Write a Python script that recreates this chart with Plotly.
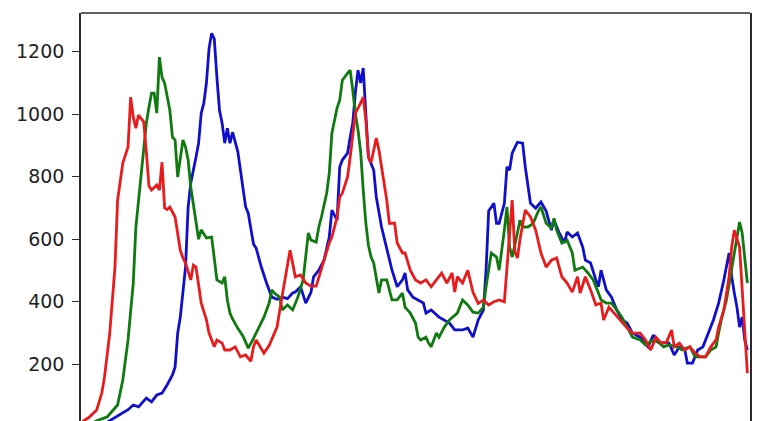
import plotly.graph_objects as go

# Color histogram (bins 0..255) for the three channels
blue_x = [0, 5, 9, 11, 13, 15, 18, 20, 22, 25, 27, 29, 31, 33, 35, 36, 37, 38, 40, 41, 42, 44, 45, 46, 47, 48, 49, 50, 51, 52, 53, 54, 55, 56, 57, 58, 60, 61, 62, 63, 64, 66, 67, 69, 71, 73, 75, 77, 79, 81, 82, 84, 85, 86, 88, 89, 91, 93, 95, 96, 98, 99, 100, 102, 103, 104, 105, 106, 107, 108, 109, 110, 112, 113, 115, 117, 119, 121, 123, 124, 125, 127, 129, 131, 132, 134, 137, 139, 141, 143, 146, 148, 150, 152, 154, 155, 156, 158, 159, 160, 162, 163, 164, 165, 167, 169, 170, 172, 174, 176, 178, 180, 181, 183, 185, 186, 188, 190, 192, 193, 195, 197, 198, 199, 201, 203, 205, 207, 209, 211, 214, 217, 219, 221, 223, 225, 227, 229, 231, 232, 234, 236, 238, 240, 242, 244, 246, 248, 249, 250, 251, 252, 253, 254, 255]
blue_y = [0, 2, 10, 20, 30, 38, 55, 70, 64, 92, 80, 102, 108, 135, 166, 191, 300, 351, 511, 703, 780, 862, 907, 1003, 1035, 1100, 1210, 1258, 1240, 1118, 1012, 971, 907, 955, 907, 942, 880, 821, 757, 703, 683, 585, 572, 511, 460, 415, 408, 415, 410, 428, 431, 448, 422, 396, 430, 480, 501, 533, 607, 693, 661, 831, 853, 875, 926, 971, 1070, 1140, 1099, 1147, 1000, 862, 821, 735, 639, 565, 501, 448, 470, 492, 438, 415, 406, 396, 364, 374, 351, 342, 332, 310, 310, 316, 287, 342, 374, 501, 690, 715, 651, 651, 715, 831, 821, 875, 910, 907, 831, 715, 699, 719, 690, 629, 661, 620, 588, 623, 607, 620, 575, 533, 524, 470, 448, 501, 438, 415, 374, 342, 332, 300, 287, 256, 294, 270, 268, 268, 230, 256, 250, 204, 204, 246, 256, 300, 342, 396, 470, 556, 480, 428, 383, 319, 351, 278, 246]

green_x = [0, 4, 6, 10, 14, 16, 18, 20, 21, 23, 24, 25, 26, 27, 28, 29, 30, 31, 32, 34, 35, 36, 37, 39, 40, 41, 42, 44, 45, 46, 48, 50, 51, 52, 54, 55, 56, 57, 58, 60, 62, 64, 66, 68, 70, 72, 73, 74, 76, 77, 79, 81, 82, 83, 85, 86, 87, 88, 90, 91, 92, 94, 95, 96, 98, 99, 100, 102, 103, 104, 105, 106, 107, 108, 109, 110, 111, 112, 113, 114, 115, 117, 118, 119, 121, 123, 124, 126, 128, 129, 130, 132, 133, 134, 136, 137, 139, 141, 144, 146, 148, 150, 152, 154, 155, 157, 159, 160, 162, 163, 164, 165, 167, 168, 169, 171, 173, 175, 176, 178, 180, 181, 182, 184, 186, 188, 189, 190, 192, 194, 196, 198, 199, 201, 203, 205, 207, 209, 211, 214, 216, 219, 221, 223, 225, 228, 230, 233, 235, 237, 239, 241, 243, 244, 245, 247, 249, 251, 252, 253, 255]
green_y = [0, 10, 20, 32, 70, 150, 278, 460, 639, 811, 895, 971, 1022, 1067, 1067, 1003, 1182, 1118, 1099, 1012, 926, 917, 799, 917, 895, 853, 767, 660, 600, 630, 604, 607, 533, 470, 460, 480, 406, 364, 345, 315, 290, 252, 283, 316, 351, 396, 438, 428, 415, 374, 390, 374, 396, 415, 470, 556, 620, 597, 591, 639, 671, 747, 810, 939, 1020, 1044, 1108, 1131, 1140, 1076, 1000, 949, 880, 757, 651, 580, 543, 524, 480, 428, 470, 470, 438, 406, 406, 428, 383, 364, 332, 287, 278, 287, 268, 256, 300, 287, 319, 342, 364, 406, 390, 367, 364, 383, 448, 556, 543, 501, 629, 703, 575, 543, 620, 661, 639, 639, 650, 690, 703, 651, 636, 667, 629, 588, 597, 556, 501, 505, 511, 492, 470, 428, 406, 396, 396, 374, 351, 319, 287, 278, 262, 278, 270, 256, 262, 256, 246, 256, 224, 224, 224, 246, 256, 300, 342, 406, 511, 607, 655, 620, 460]

red_x = [0, 1, 3, 6, 8, 9, 11, 13, 14, 16, 18, 19, 20, 21, 22, 24, 25, 26, 27, 28, 29, 30, 31, 32, 33, 34, 36, 38, 39, 40, 42, 43, 44, 46, 48, 49, 51, 52, 54, 55, 57, 59, 61, 63, 65, 66, 67, 69, 70, 72, 73, 75, 77, 79, 80, 82, 84, 86, 88, 90, 91, 93, 95, 96, 98, 99, 100, 102, 103, 104, 105, 107, 108, 109, 110, 111, 112, 113, 114, 116, 117, 118, 120, 121, 123, 124, 126, 128, 130, 132, 134, 136, 138, 140, 142, 143, 144, 146, 148, 150, 152, 154, 156, 158, 160, 162, 163, 165, 166, 167, 168, 170, 172, 174, 176, 178, 180, 182, 184, 186, 188, 190, 191, 193, 195, 197, 199, 200, 202, 204, 206, 209, 211, 214, 216, 218, 220, 222, 224, 226, 227, 229, 231, 233, 235, 237, 239, 241, 243, 244, 246, 248, 249, 250, 252, 253, 255]
red_y = [5, 20, 30, 54, 110, 160, 300, 511, 725, 843, 895, 1054, 990, 955, 997, 975, 880, 770, 757, 765, 773, 757, 846, 700, 695, 703, 671, 565, 540, 524, 470, 517, 511, 396, 342, 300, 256, 278, 268, 246, 246, 256, 224, 230, 210, 256, 278, 250, 236, 260, 278, 319, 420, 524, 565, 480, 486, 460, 450, 450, 480, 533, 588, 607, 671, 735, 747, 799, 862, 939, 1003, 1035, 1054, 980, 862, 845, 880, 923, 885, 779, 725, 651, 651, 588, 556, 556, 501, 470, 460, 470, 448, 470, 492, 460, 492, 431, 480, 460, 501, 430, 395, 406, 390, 400, 406, 400, 511, 725, 560, 540, 600, 693, 671, 629, 556, 511, 533, 540, 480, 460, 431, 480, 428, 480, 438, 390, 396, 342, 383, 364, 342, 316, 300, 300, 278, 246, 287, 268, 270, 310, 256, 268, 246, 256, 236, 224, 224, 256, 278, 319, 374, 480, 575, 629, 575, 428, 172]

y_ticks = [200, 400, 600, 800, 1000, 1200]

series = [
    ("b", blue_x, blue_y, "#1010cc"),
    ("g", green_x, green_y, "#107a10"),
    ("r", red_x, red_y, "#e81c1c"),
]

fig = go.Figure()
for name, xs, ys, col in series:
    fig.add_trace(go.Scatter(x=xs, y=ys, mode="lines", name=name,
                             line=dict(color=col, width=2.8), hoverinfo="skip"))

# page body has an 8px margin, so the figure is offset by 8px right and down
fig.update_layout(
    width=758, height=413,
    margin=dict(l=73, r=16, t=5, b=0),
    paper_bgcolor="white", plot_bgcolor="white",
    showlegend=False,
    font=dict(family="DejaVu Sans", size=19, color="#222222"),
    shapes=[dict(type="line", xref="paper", yref="paper", x0=0, x1=1, y0=1, y1=1,
                 line=dict(color="#2a2a33", width=1.6))],
)
fig.update_xaxes(range=[0, 256], showline=False, showgrid=False, zeroline=False,
                 showticklabels=False, ticks="")
fig.update_yaxes(range=[19, 1323], tickvals=y_ticks, showgrid=False, zeroline=False,
                 showline=True, mirror=True, linecolor="#2a2a33", linewidth=1.6,
                 ticks="outside", ticklen=7, tickwidth=1.3, tickcolor="#2a2a33",
                 ticklabelstandoff=4)

fig.write_html("out.html", config={"displayModeBar": False})
